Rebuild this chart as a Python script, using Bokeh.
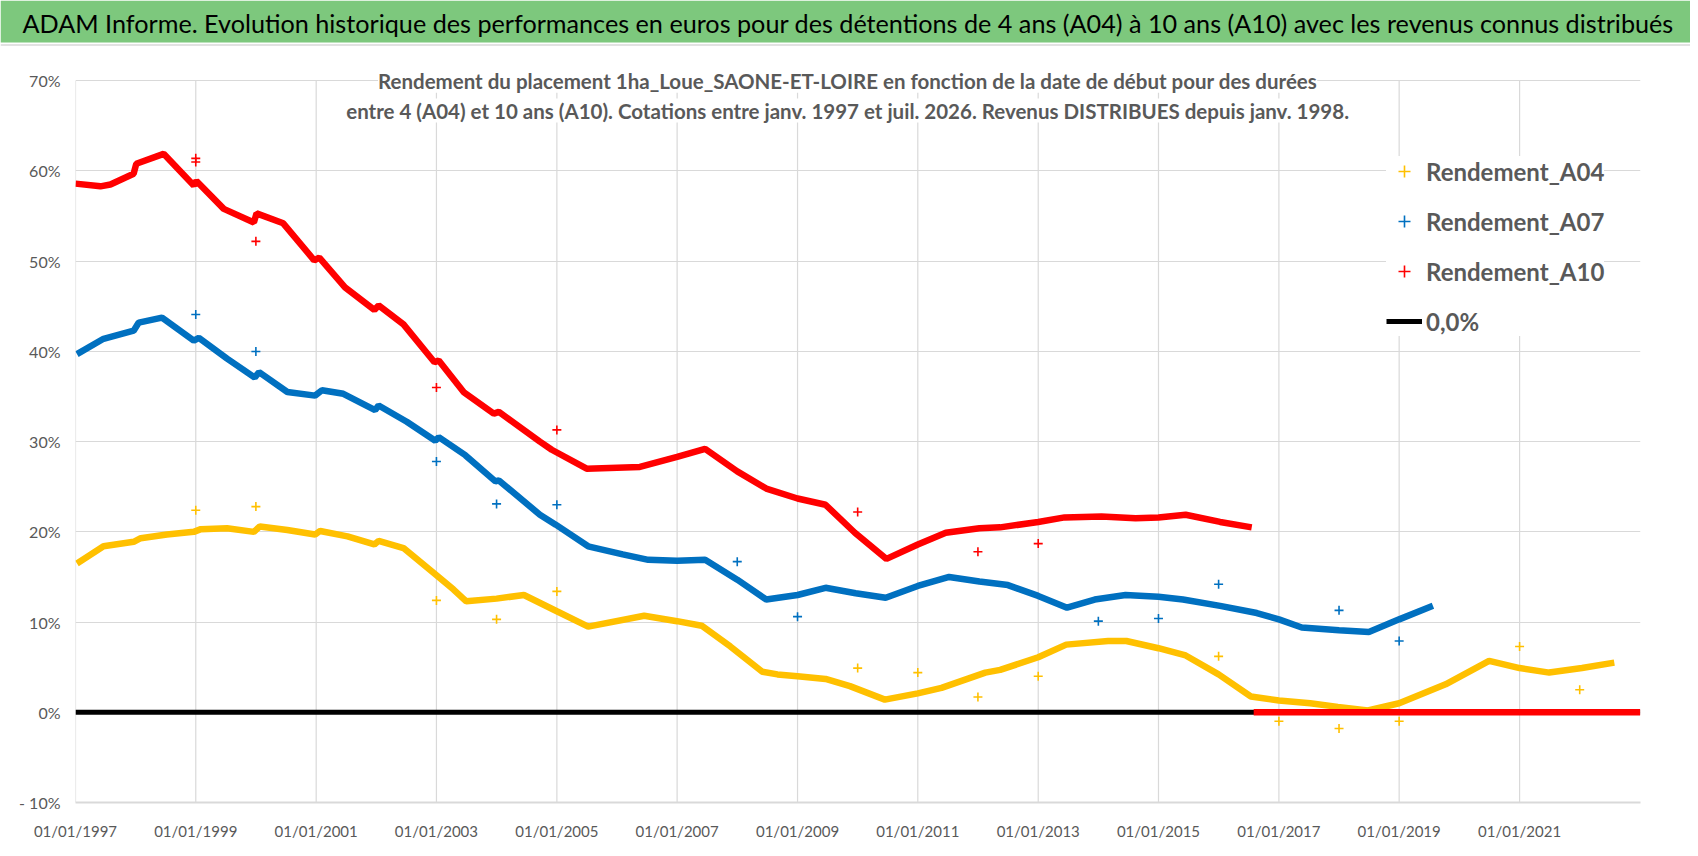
import numpy as np
import pandas as pd
from bokeh.plotting import figure
from bokeh.models import (FixedTicker, DatetimeTickFormatter, Legend, LegendItem,
                          Label, Range1d)
from bokeh.layouts import column
from bokeh.embed import file_html
from bokeh.resources import INLINE
from bokeh.core.properties import value

# ---------------- data ----------------
TITLE = ("ADAM Informe. Evolution historique des performances en euros pour des détentions "
         "de 4 ans (A04) à 10 ans (A10) avec les revenus connus distribués")
SUB1 = "Rendement du placement 1ha_Loue_SAONE-ET-LOIRE en fonction de la date de début pour des durées"
SUB2 = ("entre 4 (A04) et 10 ans (A10). Cotations entre janv. 1997 et juil. 2026. "
        "Revenus DISTRIBUES depuis janv. 1998.")

a04_dates = ["1997-01-10", "1997-06-20", "1997-12-20", "1998-02-01", "1998-07-10", "1998-12-20",
             "1999-02-01", "1999-07-10", "1999-12-20", "2000-01-25", "2000-07-10", "2000-12-25",
             "2001-01-25", "2001-07-10", "2001-12-20", "2002-01-15", "2002-06-15", "2002-12-25",
             "2003-04-15", "2003-07-01", "2004-01-01", "2004-06-15", "2005-01-01", "2005-07-10",
             "2006-06-15", "2007-01-01", "2007-05-30", "2007-11-20", "2008-06-01", "2008-09-01",
             "2009-01-01", "2009-06-20", "2009-11-15", "2010-06-15", "2011-01-01", "2011-05-25",
             "2012-02-15", "2012-05-15", "2013-01-01", "2013-06-20", "2014-03-01", "2014-06-20",
             "2015-01-01", "2015-06-15", "2016-01-01", "2016-07-15", "2017-01-01", "2017-07-10",
             "2017-12-25", "2018-06-25", "2019-01-01", "2019-10-10", "2020-06-30", "2021-01-01",
             "2021-06-30", "2022-01-15", "2022-07-30"]
a04_vals = [16.5, 18.4, 18.9, 19.3, 19.7, 20.0,
            20.3, 20.4, 20.0, 20.6, 20.2, 19.7,
            20.1, 19.5, 18.6, 19.0, 18.2, 15.3,
            13.6, 12.3, 12.6, 13.0, 11.2, 9.5,
            10.7, 10.1, 9.6, 7.3, 4.5, 4.2,
            4.0, 3.7, 2.9, 1.4, 2.1, 2.7,
            4.4, 4.7, 6.1, 7.5, 7.9, 7.9,
            7.1, 6.3, 4.2, 1.75, 1.3, 1.0,
            0.6, 0.2, 1.0, 3.1, 5.7, 4.9,
            4.4, 4.9, 5.5]

a07_dates = ["1997-01-10", "1997-06-20", "1997-12-20", "1998-01-20", "1998-06-10", "1998-12-20",
             "1999-01-20", "1999-07-10", "1999-12-25", "2000-01-20", "2000-07-10", "2000-12-25",
             "2001-02-05", "2001-06-15", "2001-12-25", "2002-01-15", "2002-07-05", "2002-12-25",
             "2003-01-15", "2003-06-25", "2003-12-25", "2004-01-15", "2004-09-20", "2004-12-25",
             "2005-07-10", "2006-02-05", "2006-07-10", "2007-01-01", "2007-06-20", "2008-01-01",
             "2008-06-25", "2009-01-01", "2009-06-20", "2009-12-20", "2010-06-20", "2011-01-01",
             "2011-07-10", "2012-01-10", "2012-07-01", "2013-01-01", "2013-06-25", "2013-12-10",
             "2014-06-15", "2015-01-01", "2015-05-30", "2016-01-10", "2016-08-20", "2017-01-01",
             "2017-05-20", "2018-01-01", "2018-07-01", "2019-01-01", "2019-07-25"]
a07_vals = [39.7, 41.4, 42.3, 43.2, 43.75, 41.2,
            41.5, 39.2, 37.1, 37.7, 35.5, 35.1,
            35.7, 35.3, 33.5, 34.0, 32.2, 30.1,
            30.5, 28.5, 25.6, 25.7, 21.9, 20.8,
            18.4, 17.5, 16.9, 16.8, 16.9, 14.7,
            12.5, 13.0, 13.8, 13.2, 12.7, 14.0,
            15.0, 14.5, 14.1, 12.9, 11.6, 12.5,
            13.0, 12.8, 12.5, 11.8, 11.0, 10.3,
            9.4, 9.1, 8.9, 10.3, 11.8]

a10_dates = ["1997-01-01", "1997-06-01", "1997-08-01", "1997-12-20", "1998-01-05", "1998-06-20",
             "1998-12-20", "1999-01-05", "1999-06-20", "1999-12-20", "2000-01-05", "2000-06-15",
             "2000-12-20", "2001-01-20", "2001-06-25", "2001-12-20", "2002-01-15", "2002-06-15",
             "2002-12-20", "2003-01-15", "2003-06-15", "2003-12-15", "2004-01-15", "2004-09-20",
             "2004-12-01", "2005-07-01", "2006-05-20", "2007-01-01", "2007-06-20", "2008-01-01",
             "2008-06-25", "2009-01-01", "2009-06-20", "2009-12-15", "2010-06-25", "2011-01-01",
             "2011-06-20", "2012-01-10", "2012-05-15", "2013-01-01", "2013-06-10", "2014-01-20",
             "2014-08-15", "2015-01-01", "2015-06-15", "2016-01-10", "2016-07-20",
             "2016-07-26", "2016-08-01", "2023-01-03"]
a10_vals = [58.6, 58.3, 58.5, 59.7, 60.8, 61.9,
            58.4, 58.9, 55.8, 54.3, 55.3, 54.2,
            50.1, 50.4, 47.1, 44.6, 45.1, 43.0,
            38.8, 39.0, 35.5, 33.1, 33.3, 30.0,
            29.1, 27.0, 27.2, 28.3, 29.2, 26.7,
            24.8, 23.7, 23.0, 19.9, 17.0, 18.6,
            19.9, 20.4, 20.5, 21.1, 21.6, 21.7,
            21.5, 21.6, 21.9, 21.1, 20.5,
            np.nan, 0.0, 0.0]

a04_out_dates = ["1999-01-01", "2000-01-01", "2003-01-01", "2004-01-01", "2005-01-01", "2010-01-01",
                 "2011-01-01", "2012-01-01", "2013-01-01", "2016-01-01", "2017-01-01", "2018-01-01",
                 "2019-01-01", "2021-01-01", "2022-01-01"]
a04_out_vals = [22.4, 22.8, 12.4, 10.3, 13.4, 4.9, 4.4, 1.7, 4.0, 6.2, -1.0, -1.8, -1.0, 7.3, 2.5]

a07_out_dates = ["1999-01-01", "2000-01-01", "2003-01-01", "2004-01-01", "2005-01-01", "2008-01-01",
                 "2009-01-01", "2014-01-01", "2015-01-01", "2016-01-01", "2018-01-01", "2019-01-01"]
a07_out_vals = [44.1, 40.0, 27.8, 23.1, 23.0, 16.7, 10.6, 10.1, 10.4, 14.2, 11.3, 7.9]

a10_out_dates = ["1999-01-01", "1999-01-01", "2000-01-01", "2003-01-01", "2005-01-01", "2010-01-01",
                 "2012-01-01", "2013-01-01"]
a10_out_vals = [61.4, 61.0, 52.2, 36.0, 31.3, 22.2, 17.8, 18.7]

zero_dates = ["1997-01-01", "2023-01-03"]
zero_vals = [0.0, 0.0]

y_ticks = [-10, 0, 10, 20, 30, 40, 50, 60, 70]
y_labels = ["- 10%", "0%", "10%", "20%", "30%", "40%", "50%", "60%", "70%"]
x_tick_years = [1997, 1999, 2001, 2003, 2005, 2007, 2009, 2011, 2013, 2015, 2017, 2019, 2021]

legend_labels = ["Rendement_A04", "Rendement_A07", "Rendement_A10", "0,0%"]

# ---------------- style ----------------
FONT = "Lato"
C04, C07, C10 = "#FFC000", "#0070C0", "#FF0000"
GREEN = "#7DC87D"
GRID = "#D9D9D9"
TXT = "#595959"
W = 1690
TOP_H = 46
MAIN_H = 802


def dt(lst):
    return pd.to_datetime(lst)


# ---------------- title bar ----------------
top = figure(width=W, height=TOP_H, output_backend="svg", toolbar_location=None,
             x_range=Range1d(0, W), y_range=Range1d(0, TOP_H), min_border=0)
top.frame_align = False
top.axis.visible = False
top.grid.visible = False
top.outline_line_color = None
top.background_fill_color = "white"
top.border_fill_color = "white"
top.quad(left=[0], right=[W], bottom=[4], top=[TOP_H], fill_color=GREEN, line_color=None)
top.segment(x0=[0], y0=[1.5], x1=[W], y1=[1.5], line_color=GRID, line_width=1.5)
top.text(x=[22], y=[24], text=[TITLE], text_font=value(FONT), text_font_size="25.2px",
         text_baseline="middle", text_align="left", text_color="#000000")

# ---------------- main chart ----------------
p = figure(width=W, height=MAIN_H, x_axis_type="datetime", output_backend="svg",
           toolbar_location=None,
           x_range=Range1d(pd.Timestamp("1997-01-01"), pd.Timestamp("2023-01-05")),
           y_range=Range1d(-10, 73.8),
           min_border_left=75, min_border_right=50, min_border_top=0, min_border_bottom=46)
p.frame_align = False
p.outline_line_color = None
p.background_fill_color = "white"
p.border_fill_color = "white"

x_ticks = [pd.Timestamp(f"{y}-01-01").timestamp() * 1000 for y in x_tick_years]
p.xaxis.ticker = FixedTicker(ticks=x_ticks)
fmt = "%d/%m/%Y"
p.xaxis.formatter = DatetimeTickFormatter(years=fmt, months=fmt, days=fmt, hours=fmt,
                                          minutes=fmt, seconds=fmt, milliseconds=fmt,
                                          microseconds=fmt, minsec=fmt, hourmin=fmt)
p.yaxis.ticker = FixedTicker(ticks=y_ticks)
p.yaxis.major_label_overrides = {t: l for t, l in zip(y_ticks, y_labels)}

for ax in (p.xaxis, p.yaxis):
    ax.major_tick_line_color = None
    ax.minor_tick_line_color = None
    ax.major_label_text_font = FONT
    ax.major_label_text_color = TXT
p.xaxis.major_label_text_font_size = "15px"
p.yaxis.major_label_text_font_size = "16px"
p.yaxis.axis_line_color = None
p.xaxis.axis_line_color = GRID
p.xaxis.axis_line_width = 2
p.xaxis.major_label_standoff = 13
p.yaxis.major_label_standoff = 9

# grid: horizontal lines from the y ticker, vertical lines stop at the 70% line
p.xgrid.visible = False
p.ygrid.grid_line_color = GRID
p.ygrid.grid_line_width = 1.2
p.segment(x0=dt([f"{y}-01-01" for y in x_tick_years]), y0=[y_ticks[0]] * len(x_tick_years),
          x1=dt([f"{y}-01-01" for y in x_tick_years]), y1=[y_ticks[-1]] * len(x_tick_years),
          line_color=GRID, line_width=1.2)

# zero line
r0 = p.line(dt(zero_dates), zero_vals, line_color="black", line_width=5)

# series bands
p.line(dt(a04_dates), a04_vals, line_color=C04, line_width=6.5)
p.line(dt(a07_dates), a07_vals, line_color=C07, line_width=6.5)
p.line(dt(a10_dates), a10_vals, line_color=C10, line_width=6.5)

# isolated points
r04 = p.scatter(dt(a04_out_dates), a04_out_vals, marker="cross", size=9, line_width=1.6,
                line_color=C04)
r07 = p.scatter(dt(a07_out_dates), a07_out_vals, marker="cross", size=9, line_width=1.6,
                line_color=C07)
r10 = p.scatter(dt(a10_out_dates), a10_out_vals, marker="cross", size=9, line_width=1.6,
                line_color=C10)

# subtitle
mid = pd.Timestamp("2009-11-01").timestamp() * 1000
for txt, yy in ((SUB1, 70.0), (SUB2, 66.7)):
    p.add_layout(Label(x=mid, y=yy, text=txt, text_align="center", text_baseline="middle",
                       text_font=FONT, text_font_size="20.5px", text_font_style="bold",
                       text_color=TXT, background_fill_color="white"))

legend = Legend(items=[LegendItem(label=legend_labels[0], renderers=[r04]),
                       LegendItem(label=legend_labels[1], renderers=[r07]),
                       LegendItem(label=legend_labels[2], renderers=[r10]),
                       LegendItem(label=legend_labels[3], renderers=[r0])],
                location=(1311, 466), label_text_font=FONT, label_text_font_size="24px",
                label_text_font_style="bold", label_text_color=TXT,
                background_fill_color="white", background_fill_alpha=1.0,
                border_line_color=None, padding=14, spacing=20, label_height=30,
                glyph_height=30, glyph_width=36, label_standoff=4, margin=0)
p.add_layout(legend)

layout = column(top, p, spacing=0)
open("out.html", "w").write(file_html(layout, INLINE))
